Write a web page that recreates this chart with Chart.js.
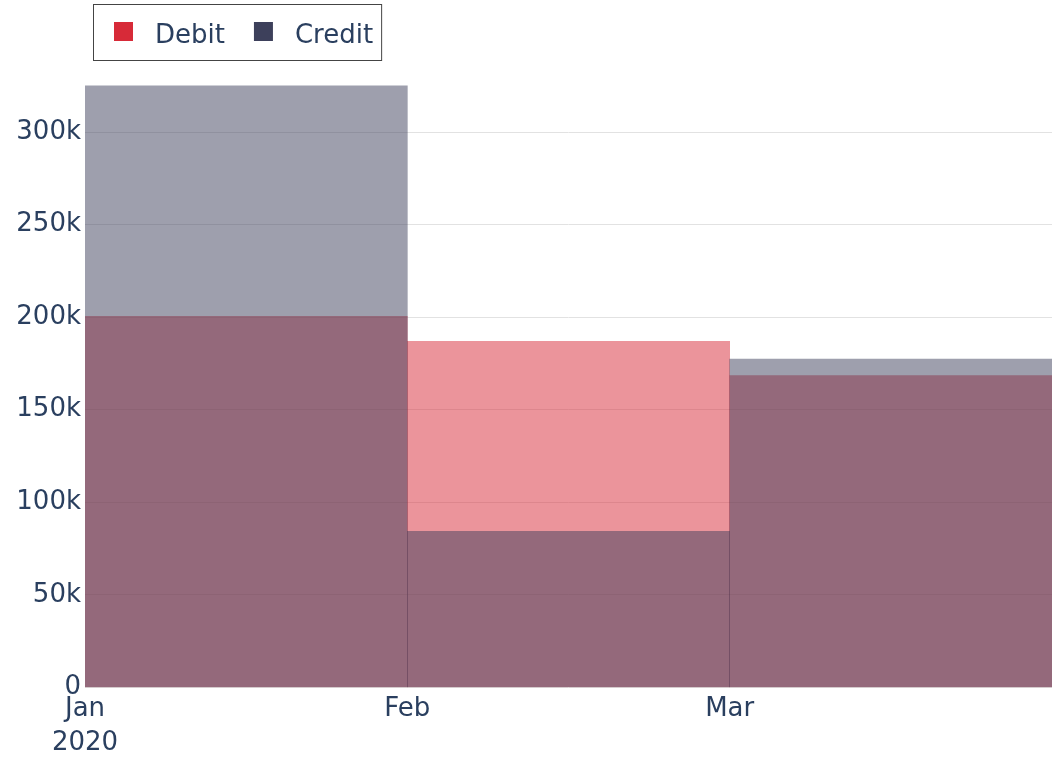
<!DOCTYPE html>
<html>
<head>
<meta charset="utf-8">
<script src="https://cdn.jsdelivr.net/npm/chart.js@4/dist/chart.umd.min.js"></script>
<style>
  html, body { margin: 0; padding: 0; background: #fff; }
  #wrap { width: 1052px; height: 768px; }
</style>
</head>
<body>
<div id="wrap"><canvas id="myChart" width="1052" height="768"></canvas></div>
<script>
// data
const months = ["Jan", "Feb", "Mar"];
const monthTicks = [["Jan", "2020"], "Feb", "Mar"];
const debit = [200500, 187000, 168500];
const credit = [325000, 84300, 177300];
const yTicks = [0, 50000, 100000, 150000, 200000, 250000, 300000];

const debitColor = "#d72a38";
const creditColor = "#3d405b";
const textColor = "#2a3f5f";
const fontFamily = "'DejaVu Sans', sans-serif";

// legend drawn by hand so it gets the framed box
const boxLegend = {
  id: "boxLegend",
  afterDraw(chart) {
    const ctx = chart.ctx;
    const sets = chart.data.datasets;
    ctx.save();
    ctx.font = "26px " + fontFamily;
    ctx.textBaseline = "alphabetic";
    let x = 114;
    sets.forEach((ds, i) => {
      ctx.fillStyle = ds.legendColor;
      ctx.fillRect(x, 22, 19, 19);
      ctx.fillStyle = textColor;
      ctx.fillText(ds.label, x + 41, 43);
      x += 41 + ctx.measureText(ds.label).width;
      if (i < sets.length - 1) x += 29;
    });
    ctx.strokeStyle = "#444";
    ctx.lineWidth = 1;
    ctx.strokeRect(93.5, 4.5, x + 8 - 93, 56);
    ctx.restore();
  }
};

let mychart = new Chart("myChart", {
  type: "bar",
  data: {
    labels: months,
    datasets: [{
      label: "Debit",
      data: debit,
      backgroundColor: "rgba(215, 42, 56, 0.5)",
      legendColor: debitColor,
      order: 2,
      grouped: false,
      barPercentage: 1,
      categoryPercentage: 1
    }, {
      label: "Credit",
      data: credit,
      backgroundColor: "rgba(61, 64, 91, 0.5)",
      legendColor: creditColor,
      order: 1,
      grouped: false,
      barPercentage: 1,
      categoryPercentage: 1
    }]
  },
  options: {
    responsive: false,
    animation: false,
    layout: { padding: { top: 85, right: 0, left: 0, bottom: 3 } },
    plugins: {
      legend: { display: false },
      tooltip: { enabled: false }
    },
    scales: {
      x: {
        type: "category",
        display: false,
        offset: true
      },
      x2: {
        type: "linear",
        position: "bottom",
        offset: false,
        min: 0,
        max: months.length,
        border: { display: false },
        grid: { display: false, drawTicks: false, offset: false },
        afterBuildTicks(scale) {
          scale.ticks = months.map((m, i) => ({ value: i }));
        },
        ticks: {
          autoSkip: false,
          maxRotation: 0,
          padding: 5,
          color: textColor,
          font: { family: fontFamily, size: 26, lineHeight: 1.3 },
          callback: (v) => monthTicks[v]
        }
      },
      y: {
        min: 0,
        max: 325400,
        border: { display: false },
        grid: { color: "#e2e2e2", lineWidth: 1, drawTicks: false },
        afterBuildTicks(scale) {
          scale.ticks = yTicks.map(v => ({ value: v }));
        },
        afterFit(scale) { scale.width = 85; },
        ticks: {
          padding: 4,
          color: textColor,
          font: { family: fontFamily, size: 26 },
          callback: (v) => v === 0 ? "0" : (v / 1000) + "k"
        }
      }
    }
  },
  plugins: [boxLegend]
});
</script>
</body>
</html>
